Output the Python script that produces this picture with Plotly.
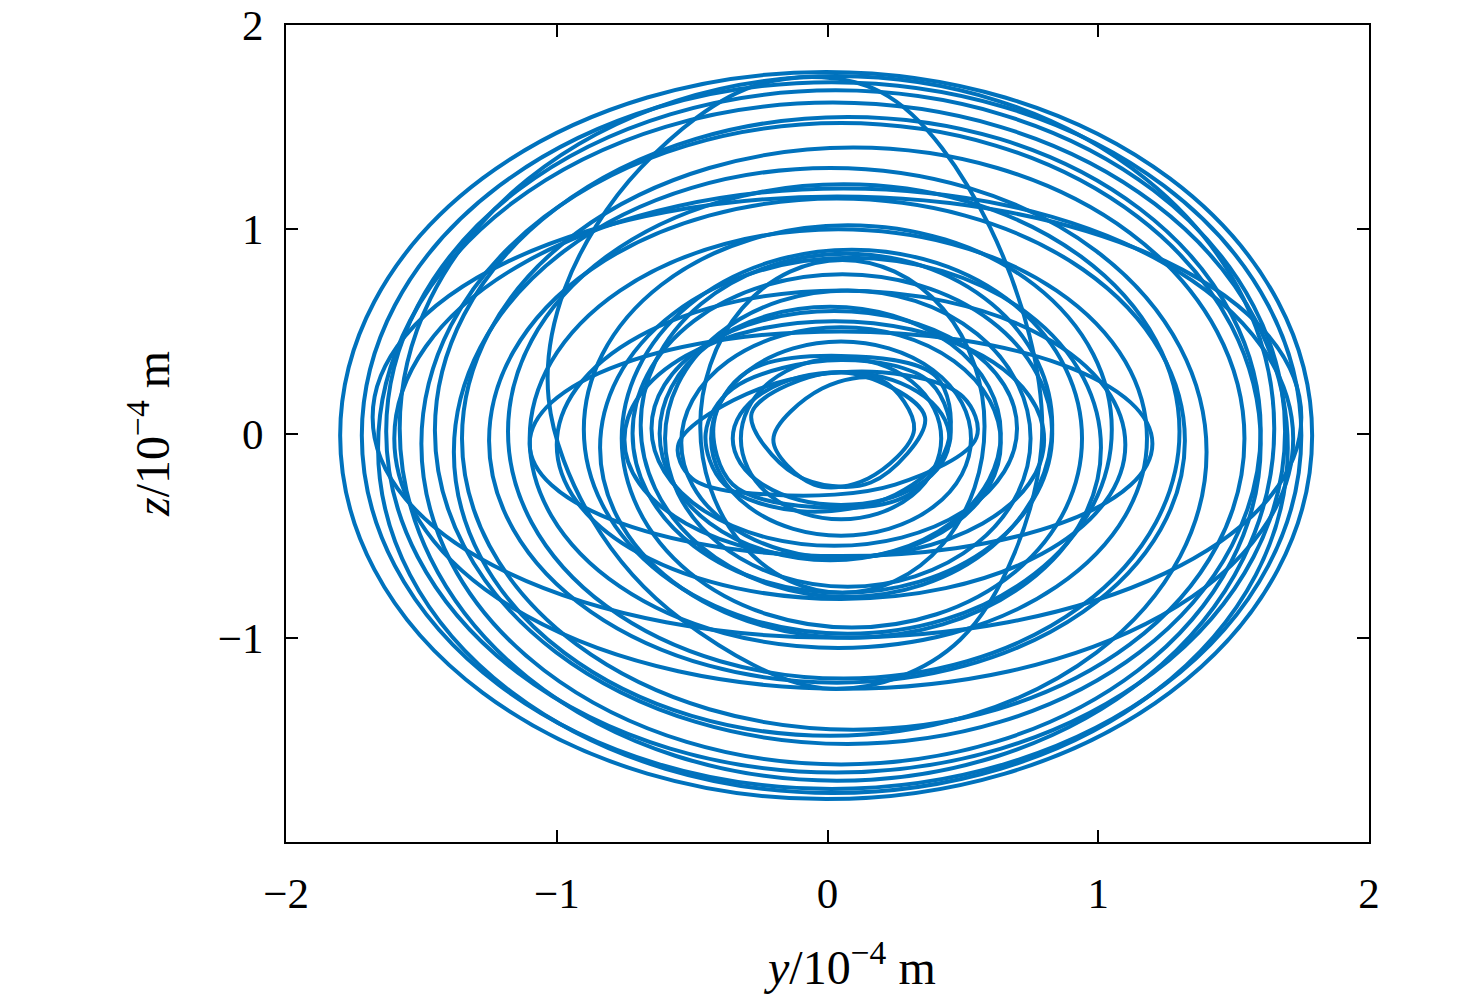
import plotly.graph_objects as go

# Near-elliptic loops of the orbit (units of 1e-4 m)
loop_y_left = [-1.80, -1.72, -1.63, -1.58, -1.45, -1.35, -1.68, -1.60, -1.25,
               -1.10, -0.84, -0.76, -1.00, -0.69, -0.60, -0.75, -1.10, -0.54, -0.65,
               -0.47, -0.43, -0.32, -0.35, -0.62, -0.72,
               -0.90, -1.18, -1.38, -1.50, -1.66]
loop_y_right = [1.79, 1.75, 1.69, 1.65, 1.60, 1.54, 1.75, 1.72, 1.32,
                1.18, 1.01, 0.94, 1.10, 0.83, 0.75, 0.80, 1.20, 0.64, 0.70,
                0.58, 0.53, 0.42, 0.45, 0.64, 0.83,
                1.05, 1.30, 1.40, 1.60, 1.70]
loop_z_bottom = [-1.79, -1.74, -1.66, -1.70, -1.52, -1.45, -1.00, -1.25, -1.22,
                 -1.05, -1.00, -0.95, -0.81, -0.80, -0.75, -0.61, -0.60, -0.61, -0.55,
                 -0.78, -0.50, -0.42, -0.35, -0.62, -0.78,
                 -0.98, -1.20, -1.48, -1.62, -1.76]
loop_z_top = [1.77, 1.72, 1.68, 1.75, 1.55, 1.40, 1.16, 1.20, 1.15,
              1.00, 0.86, 0.90, 0.70, 0.88, 0.70, 0.55, 0.50, 0.52, 0.60,
              0.85, 0.45, 0.37, 0.30, 0.62, 0.78,
              1.02, 1.22, 1.30, 1.52, 1.62]

# Tilted / irregular loops
tall_loop_y = [-1.03, -0.97, -0.69, -0.25, 0.20, 0.60, 0.79, 0.49, 0.01, -0.54, -0.87, -1.03]
tall_loop_z = [0.17, 0.71, 1.30, 1.71, 1.67, 1.01, -0.07, -1.01, -1.25, -0.91, -0.42, 0.17]
inner_a_y = [-0.42, -0.30, 0.05, 0.40, 0.45, 0.30, -0.05, -0.35, -0.42]
inner_a_z = [0.05, 0.30, 0.38, 0.28, -0.02, -0.30, -0.36, -0.25, 0.05]
inner_b_y = [-0.35, 0.05, 0.38, 0.45, 0.25, -0.10, -0.38, -0.45, -0.35]
inner_b_z = [0.22, 0.36, 0.25, -0.05, -0.30, -0.38, -0.25, 0.00, 0.22]
inner_d_y = [-0.55, -0.25, 0.20, 0.50, 0.55, 0.25, -0.20, -0.50, -0.55]
inner_d_z = [-0.05, 0.22, 0.30, 0.18, -0.02, -0.25, -0.30, -0.22, -0.05]
inner_e_y = [-0.20, -0.02, 0.20, 0.32, 0.15, -0.05, -0.20]
inner_e_z = [-0.03, 0.22, 0.26, 0.02, -0.22, -0.25, -0.03]
inner_f_y = [-0.28, 0.05, 0.36, 0.16, -0.12, -0.28]
inner_f_z = [0.10, 0.30, 0.08, -0.24, -0.20, 0.10]

xticks = [-2, -1, 0, 1, 2]
yticks = [-1, 0, 1, 2]
ticktext_x = ["−2", "−1", "0", "1", "2"]
ticktext_y = ["−1", "0", "1", "2"]

FONT = "Liberation Serif"
LINE_COLOR = "#0072BD"
LW = 4.0

fig = go.Figure()
for ly, lz in [(tall_loop_y, tall_loop_z), (inner_a_y, inner_a_z), (inner_b_y, inner_b_z),
               (inner_d_y, inner_d_z), (inner_e_y, inner_e_z), (inner_f_y, inner_f_z)]:
    fig.add_trace(go.Scatter(x=ly, y=lz, mode="lines",
                             line=dict(color=LINE_COLOR, width=LW, shape="spline", smoothing=1.0),
                             showlegend=False, hoverinfo="skip"))

for y0, y1, z0, z1 in zip(loop_y_left, loop_y_right, loop_z_bottom, loop_z_top):
    fig.add_shape(type="circle", xref="x", yref="y", x0=y0, x1=y1, y0=z0, y1=z1,
                  line=dict(color=LINE_COLOR, width=LW), layer="above")

axis_common = dict(
    showgrid=False, zeroline=False, showline=True, linecolor="black", linewidth=2,
    mirror="ticks", ticks="inside", ticklen=12, tickwidth=2, tickcolor="black",
    tickfont=dict(family=FONT, size=43, color="black"), ticklabeloverflow="allow",
    automargin=False,
)
fig.update_xaxes(range=[-2, 2], tickvals=xticks, ticktext=ticktext_x,
                 ticklabelstandoff=12, **axis_common)
fig.update_yaxes(range=[-2, 2], tickvals=yticks, ticktext=ticktext_y,
                 ticklabelstandoff=12, **axis_common)

fig.update_layout(
    width=1476, height=1008,
    margin=dict(l=278, r=115, t=17, b=174),
    paper_bgcolor="white", plot_bgcolor="white",
    font=dict(family=FONT, size=43, color="black"),
    annotations=[
        dict(text="<i>y</i>/10<sup>−4</sup> m", xref="paper", yref="paper",
             x=0.52, y=-0.11, yanchor="top", xanchor="center", showarrow=False,
             font=dict(family=FONT, size=48, color="black")),
        dict(text="<i>z</i>/10<sup>−4</sup> m", xref="paper", yref="paper",
             x=-0.127, y=0.5, xanchor="center", yanchor="middle", textangle=-90,
             showarrow=False, font=dict(family=FONT, size=48, color="black")),
    ],
)

fig.write_html("out.html")
